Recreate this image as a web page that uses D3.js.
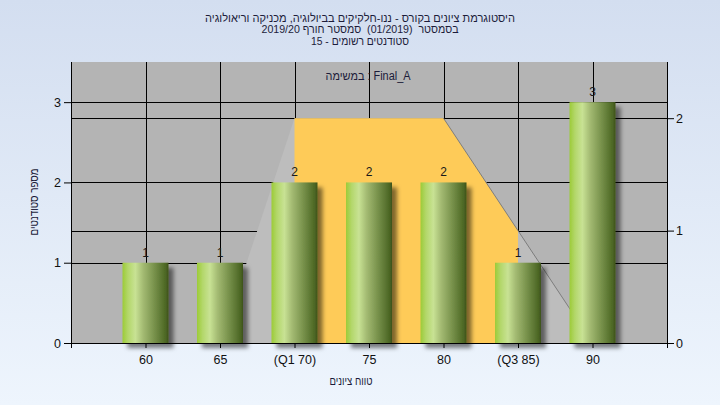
<!DOCTYPE html>
<html><head><meta charset="utf-8">
<script src="https://cdn.jsdelivr.net/npm/d3@7"></script>
<style>html,body{margin:0;padding:0;background:#fff}svg{display:block}</style>
</head><body>
<svg id="c" width="720" height="405"></svg>
<script>
const categories = ["60","65","(Q1 70)","75","80","(Q3 85)","90"];
const counts = [1,1,2,2,2,1,3];
const distribution = [0,0,2,2,2,1,0];
const leftTicks = [0,1,2,3];
const rightTicks = [0,1,2];
const titleLines = ["היסטוגרמת ציונים בקורס - ננו-חלקיקים בביולוגיה, מכניקה וריאולוגיה",
                    "בסמסטר  (01/2019)  סמסטר חורף 2019/20",
                    "סטודנטים רשומים - 15"];
const legendText = "במשימה : Final_A";
const xTitle = "טווח ציונים";
const yTitle = "מספר סטודנטים";
const q1Label = "(Q1 70)", q3Label = "(Q3 85)";

const W = 720, H = 405;
const P = {l:71, r:667, t:62, b:343};
const FONT = "'Liberation Sans','DejaVu Sans',Arial,sans-serif";

const svg = d3.select("#c");
const defs = svg.append("defs");

const bg = defs.append("linearGradient").attr("id","bg").attr("x1",0).attr("y1",0).attr("x2",0).attr("y2",1);
bg.append("stop").attr("offset","0%").attr("stop-color","#d3def0");
bg.append("stop").attr("offset","100%").attr("stop-color","#eef5fd");

const bar = defs.append("linearGradient").attr("id","bar").attr("x1",0).attr("y1",0).attr("x2",1).attr("y2",0);
[["0%","#9ccb38"],["12%","#b3d76a"],["28%","#c8e294"],["45%","#a3ba72"],["70%","#76904a"],["94%","#4c6724"],["100%","#3e521c"]]
  .forEach(([o,c])=>bar.append("stop").attr("offset",o).attr("stop-color",c));

const f = defs.append("filter").attr("id","sh").attr("x","-20%").attr("y","-20%").attr("width","150%").attr("height","150%");
f.append("feDropShadow").attr("dx",5).attr("dy",5).attr("stdDeviation",2).attr("flood-color","#000").attr("flood-opacity",0.5);

svg.append("rect").attr("width",W).attr("height",H).attr("fill","url(#bg)");

const x = d3.scalePoint().domain(categories).range([P.l,P.r]).padding(1);
const yL = d3.scaleLinear().domain([0,3.5]).range([P.b,P.t]);
const yR = d3.scaleLinear().domain([0,2.5]).range([P.b,P.t]);

// plot background
svg.append("rect").attr("x",P.l).attr("y",P.t).attr("width",P.r-P.l).attr("height",P.b-P.t).attr("fill","#b4b4b4");

// gridlines
const g = svg.append("g").attr("stroke","#000").attr("stroke-width",1).attr("shape-rendering","crispEdges");
g.selectAll(".vx").data(categories).join("line")
  .attr("x1",d=>Math.round(x(d))+0.5).attr("x2",d=>Math.round(x(d))+0.5).attr("y1",P.t).attr("y2",P.b);
g.selectAll(".hl").data(leftTicks.slice(1)).join("line")
  .attr("x1",P.l).attr("x2",P.r).attr("y1",d=>Math.round(yL(d))+0.5).attr("y2",d=>Math.round(yL(d))+0.5);
g.selectAll(".hr").data(rightTicks.slice(1)).join("line").attr("class","hr")
  .attr("x1",P.l).attr("x2",P.r).attr("y1",d=>Math.round(yR(d))+0.5).attr("y2",d=>Math.round(yR(d))+0.5);

// distribution area
const pts = categories.map((c,i)=>({c, v:distribution[i]}));
const area = d3.area().x(d=>x(d.c)).y0(yR(0)).y1(d=>yR(d.v));
svg.append("path").attr("d",area(pts)).attr("fill","#bdbdbd");
defs.append("clipPath").attr("id","iqr").append("rect")
  .attr("x",x(q1Label)).attr("y",P.t).attr("width",x(q3Label)-x(q1Label)).attr("height",P.b-P.t);
svg.append("path").attr("d",area(pts)).attr("fill","#fecb58").attr("clip-path","url(#iqr)");
const i80 = categories.indexOf("80");
svg.append("path").attr("d",d3.line().x(d=>x(d.c)).y(d=>yR(d.v))(pts.slice(i80)))
  .attr("fill","none").attr("stroke","#7d7d7d").attr("stroke-width",1);

// bars
const bw = 46;
svg.append("g").selectAll("rect").data(categories).join("rect")
  .attr("x",d=>x(d)-bw/2).attr("width",bw)
  .attr("y",(d,i)=>yL(counts[i])).attr("height",(d,i)=>yL(0)-yL(counts[i]))
  .attr("fill","url(#bar)").attr("filter","url(#sh)");

// value labels
svg.append("g").selectAll("text").data(categories).join("text")
  .attr("x",d=>x(d)).attr("y",(d,i)=>yL(counts[i])-6)
  .attr("text-anchor","middle").attr("font-family",FONT).attr("font-size",12).attr("fill","#1a1a1a")
  .text((d,i)=>counts[i]);

// axes
const axL = svg.append("g").attr("transform",`translate(${P.l},0)`)
  .call(d3.axisLeft(yL).tickValues(leftTicks).tickFormat(d3.format("d")).tickSize(7).tickPadding(3));
const axR = svg.append("g").attr("transform",`translate(${P.r},0)`)
  .call(d3.axisRight(yR).tickValues(rightTicks).tickFormat(d3.format("d")).tickSize(7).tickPadding(2));
const axB = svg.append("g").attr("transform",`translate(0,${P.b})`)
  .call(d3.axisBottom(x).tickSize(5).tickPadding(7));
[axL,axR,axB].forEach(a=>{
  a.attr("font-family",FONT).attr("font-size",12.5);
  a.select(".domain").attr("stroke","#000");
  a.selectAll(".tick line").attr("stroke","#000");
  a.selectAll("text").attr("fill","#111");
});
axB.select(".domain").attr("d",`M${P.l},0.5H${P.r}`);
axL.select(".domain").attr("d",`M0.5,${P.t}V${P.b+5}`);
axR.select(".domain").attr("d",`M0.5,${P.t}V${P.b+5}`);

// titles
const titleW = [310,197,98];
svg.append("g").attr("font-family",FONT).attr("font-size",11).attr("fill","#1c1c3a").attr("text-anchor","middle")
  .selectAll("text").data(titleLines).join("text")
  .attr("x",360).attr("y",(d,i)=>21.5+i*11.6).attr("direction","rtl")
  .attr("textLength",(d,i)=>titleW[i]).attr("lengthAdjust","spacingAndGlyphs")
  .style("white-space","pre").text(d=>d);

svg.append("text").attr("x",368).attr("y",80).attr("text-anchor","middle")
  .attr("font-family",FONT).attr("font-size",12).attr("fill","#1c1c3a")
  .attr("textLength",85).attr("lengthAdjust","spacingAndGlyphs").text(legendText);

svg.append("text").attr("x",351).attr("y",385).attr("text-anchor","middle")
  .attr("font-family",FONT).attr("font-size",12).attr("fill","#1c1c3a")
  .attr("textLength",43).attr("lengthAdjust","spacingAndGlyphs").text(xTitle);

svg.append("text").attr("transform","translate(38,202) rotate(-90)").attr("text-anchor","middle")
  .attr("direction","rtl").attr("font-family",FONT).attr("font-size",12).attr("fill","#1c1c3a")
  .attr("textLength",67).attr("lengthAdjust","spacingAndGlyphs").text(yTitle);
</script>
</body></html>
